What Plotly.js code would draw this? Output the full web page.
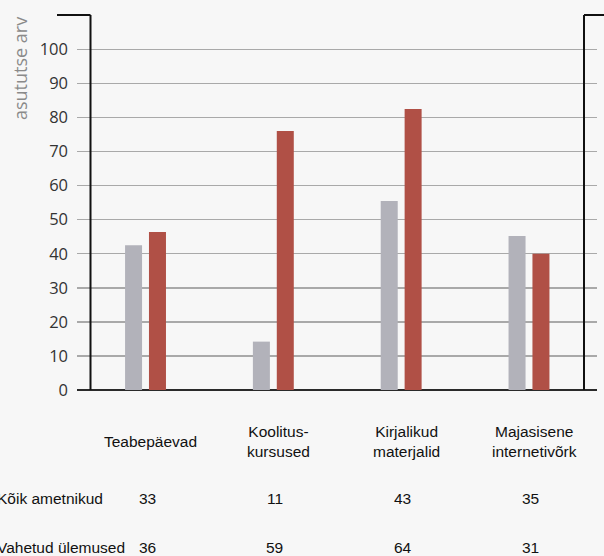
<!DOCTYPE html>
<html>
<head>
<meta charset="utf-8">
<script src="https://cdn.plot.ly/plotly-3.0.1.min.js"></script>
<style>
  html, body { margin: 0; padding: 0; background: #f7f7f7; }
  #chart { width: 604px; height: 556px; }
</style>
</head>
<body>
<div id="chart"></div>
<script>
// ---- data ----
var categories = ['Teabepäevad', 'Koolitus-kursused', 'Kirjalikud materjalid', 'Majasisene internetivõrk'];
var categoryLabels = ['Teabepäevad', 'Koolitus-<br>kursused', 'Kirjalikud<br>materjalid', 'Majasisene<br>internetivõrk'];
var seriesNames = ['Kõik ametnikud', 'Vahetud ülemused'];
var allOfficials = [42.5, 14.2, 55.5, 45.2];     // grey bars
var supervisors  = [46.4, 76.0, 82.5, 40.0];     // red bars
var tableAll = [33, 11, 43, 35];
var tableSupervisors = [36, 59, 64, 31];
var yTicks = [0, 10, 20, 30, 40, 50, 60, 70, 80, 90, 100];
var yTitle = 'asututse arv';

// ---- layout geometry ----
var L = 77, R = 7, T = 15, B = 166, W = 604, H = 556;
var plotW = W - L - R, plotH = H - T - B;
function px2x(p) { return (p - L) / plotW; }
function py2y(p) { return (H - B - p) / plotH; }

var barW = 0.133;
var traces = [
  {
    type: 'bar', name: seriesNames[0], x: categories, y: allOfficials,
    width: barW, offset: -0.160,
    marker: { color: '#b2b2ba', line: { width: 0 } },
    hoverinfo: 'skip'
  },
  {
    type: 'bar', name: seriesNames[1], x: categories, y: supervisors,
    width: barW, offset: 0.027,
    marker: { color: '#b05046', line: { width: 0 } },
    hoverinfo: 'skip'
  }
];

var annotations = [];
var catFont = { family: 'Liberation Sans, Arial, sans-serif', size: 15.5, color: '#111' };
categories.forEach(function (c, i) {
  annotations.push({
    x: c, xref: 'x', y: py2y(441), yref: 'paper', xshift: 5,
    text: categoryLabels[i], showarrow: false, font: catFont,
    xanchor: 'center', yanchor: 'middle', align: 'center'
  });
  annotations.push({
    x: c, xref: 'x', y: py2y(498), yref: 'paper', xshift: 1.5,
    text: String(tableAll[i]), showarrow: false, font: catFont,
    xanchor: 'center', yanchor: 'middle'
  });
  annotations.push({
    x: c, xref: 'x', y: py2y(547), yref: 'paper', xshift: 1.5,
    text: String(tableSupervisors[i]), showarrow: false, font: catFont,
    xanchor: 'center', yanchor: 'middle'
  });
});
annotations.push({
  x: px2x(-5), xref: 'paper', y: py2y(498), yref: 'paper',
  text: seriesNames[0], showarrow: false, font: catFont,
  xanchor: 'left', yanchor: 'middle'
});
annotations.push({
  x: px2x(-5), xref: 'paper', y: py2y(547), yref: 'paper',
  text: seriesNames[1], showarrow: false, font: catFont,
  xanchor: 'left', yanchor: 'middle'
});
annotations.push({
  x: px2x(19.5), xref: 'paper', y: 1, yref: 'paper',
  text: yTitle, showarrow: false, textangle: -90,
  font: { family: 'Open Sans, sans-serif', size: 18, color: '#8a8a8a' },
  xanchor: 'center', yanchor: 'top'
});

var lineStyle = { color: '#111', width: 2 };
var shapes = [
  { type: 'line', xref: 'paper', yref: 'paper', x0: px2x(90.5), x1: px2x(90.5), y0: 0, y1: 1, line: lineStyle },
  { type: 'line', xref: 'paper', yref: 'paper', x0: px2x(57), x1: px2x(90.5), y0: 1, y1: 1, line: lineStyle },
  { type: 'line', xref: 'paper', yref: 'paper', x0: px2x(584), x1: px2x(584), y0: 0, y1: 1, line: lineStyle },
  { type: 'line', xref: 'paper', yref: 'paper', x0: px2x(584), x1: px2x(606), y0: 1, y1: 1, line: lineStyle }
];

var layout = {
  width: W, height: H,
  margin: { l: L, r: R, t: T, b: B, pad: 0 },
  paper_bgcolor: '#f7f7f7', plot_bgcolor: '#f7f7f7',
  showlegend: false,
  barmode: 'overlay',
  xaxis: {
    type: 'category', range: [-0.536, 3.532],
    showticklabels: false, ticks: '', showgrid: false, zeroline: false, showline: false,
    fixedrange: true
  },
  yaxis: {
    range: [0, 110.07], tickvals: yTicks, ticktext: yTicks.map(String),
    ticks: '', ticklabelstandoff: 8,
    tickfont: { family: 'Open Sans, sans-serif', size: 16.5, color: '#333' },
    showgrid: true, gridcolor: '#a9a9a9', gridwidth: 1.5,
    zeroline: true, zerolinecolor: '#2a2a2a', zerolinewidth: 2,
    showline: false, fixedrange: true
  },
  annotations: annotations,
  shapes: shapes
};

Plotly.newPlot('chart', traces, layout, { displayModeBar: false, staticPlot: true });
</script>
</body>
</html>
